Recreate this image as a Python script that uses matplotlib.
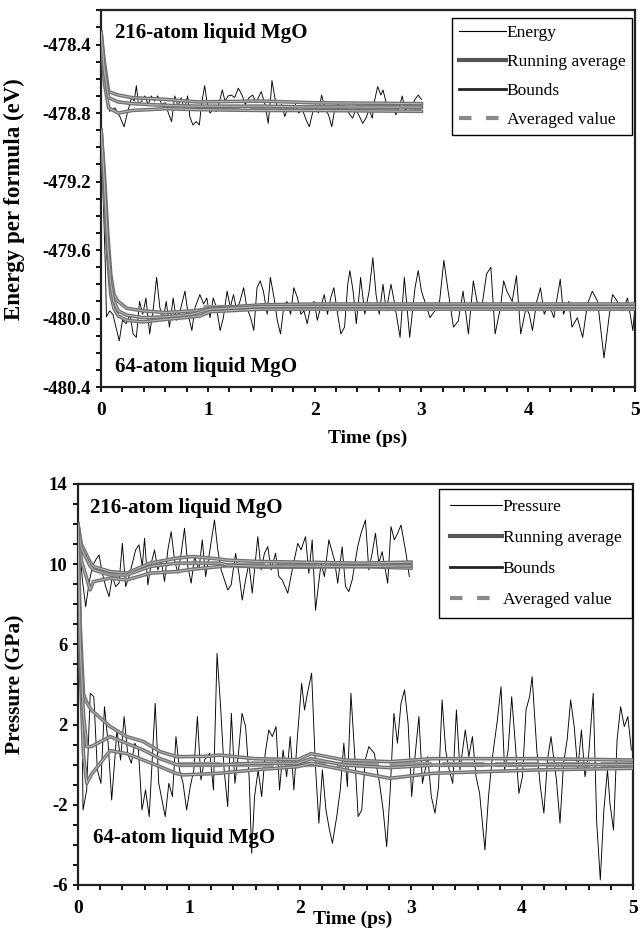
import matplotlib
matplotlib.use('Agg')
import matplotlib.pyplot as plt
import matplotlib.patheffects as pe
from matplotlib.lines import Line2D
from matplotlib.ticker import MultipleLocator, FormatStrFormatter

plt.rcParams['font.family'] = ['Liberation Serif', 'DejaVu Serif']
plt.rcParams['axes.unicode_minus'] = False

# ---- energy, 216-atom run (eV per formula) ----
e216_t = [0.0, 0.02, 0.05, 0.08, 0.13, 0.175, 0.215, 0.25, 0.285, 0.31, 0.33, 0.35, 0.38, 0.41, 0.44,
          0.47, 0.50, 0.53, 0.57, 0.60, 0.63, 0.66, 0.69, 0.72, 0.75, 0.78, 0.81, 0.83, 0.86, 0.89,
          0.92, 0.94, 0.97, 0.99, 1.02, 1.05, 1.08, 1.11, 1.135, 1.16, 1.19, 1.22, 1.25, 1.285, 1.32,
          1.35, 1.385, 1.42, 1.45, 1.48, 1.50, 1.535, 1.565, 1.59, 1.60, 1.63, 1.66, 1.69, 1.72, 1.75,
          1.785, 1.82, 1.85, 1.885, 1.92, 1.95, 1.98, 2.01, 2.035, 2.065, 2.10, 2.13, 2.16, 2.19, 2.22,
          2.25, 2.29, 2.32, 2.355, 2.385, 2.42, 2.45, 2.48, 2.51, 2.54, 2.56, 2.59, 2.62, 2.64, 2.67,
          2.70, 2.73, 2.76, 2.79, 2.82, 2.85, 2.88, 2.91, 2.94, 2.97, 3.00]
e216_v = [-478.33, -478.46, -478.655, -478.79, -478.77, -478.82, -478.88, -478.79, -478.71, -478.73,
          -478.64, -478.75, -478.73, -478.70, -478.75, -478.70, -478.73, -478.70, -478.75, -478.74,
          -478.80, -478.85, -478.70, -478.76, -478.71, -478.78, -478.70, -478.82, -478.87, -478.85,
          -478.87, -478.75, -478.64, -478.73, -478.80, -478.78, -478.79, -478.73, -478.665, -478.73,
          -478.70, -478.695, -478.71, -478.655, -478.695, -478.75, -478.71, -478.695, -478.74, -478.70,
          -478.675, -478.75, -478.86, -478.695, -478.61, -478.72, -478.78, -478.75, -478.82, -478.77,
          -478.79, -478.75, -478.80, -478.78, -478.84, -478.88, -478.80, -478.75, -478.80, -478.695,
          -478.78, -478.81, -478.88, -478.77, -478.75, -478.78, -478.76, -478.80, -478.83, -478.78,
          -478.82, -478.86, -478.83, -478.78, -478.83, -478.73, -478.645, -478.695, -478.665, -478.74,
          -478.78, -478.75, -478.81, -478.77, -478.70, -478.79, -478.74, -478.76, -478.72, -478.695,
          -478.72]
e216_run_t = [0.0, 0.03, 0.07, 0.16, 0.29, 0.60, 0.90, 1.50, 2.00, 3.00]
e216_run = [-478.33, -478.55, -478.71, -478.735, -478.745, -478.755, -478.76, -478.76, -478.765, -478.765]
e216_hi = [-478.33, -478.50, -478.675, -478.695, -478.71, -478.72, -478.735, -478.73, -478.74, -478.745]
e216_lo = [-478.33, -478.62, -478.77, -478.80, -478.785, -478.775, -478.78, -478.785, -478.785, -478.79]
e216_mean = -478.765
e216_mean_span = [0.9, 3.0]

# ---- energy, 64-atom run ----
e64_t = [0.0, 0.02, 0.04, 0.05, 0.08, 0.11, 0.17, 0.20, 0.235, 0.27, 0.30, 0.33, 0.36, 0.39, 0.42,
         0.455, 0.49, 0.52, 0.55, 0.58, 0.61, 0.64, 0.675, 0.705, 0.74, 0.785, 0.815, 0.85, 0.88, 0.925,
         0.96, 0.99, 1.02, 1.05, 1.08, 1.115, 1.145, 1.18, 1.21, 1.24, 1.27, 1.30, 1.335, 1.365, 1.40,
         1.43, 1.46, 1.49, 1.52, 1.555, 1.585, 1.62, 1.65, 1.68, 1.71, 1.74, 1.775, 1.805, 1.84, 1.87,
         1.90, 1.93, 1.96, 1.995, 2.025, 2.055, 2.09, 2.12, 2.15, 2.18, 2.21, 2.245, 2.28, 2.31, 2.33,
         2.36, 2.39, 2.42, 2.43, 2.47, 2.51, 2.545, 2.575, 2.605, 2.64, 2.67, 2.715, 2.745, 2.80, 2.84,
         2.89, 2.94, 2.97, 3.00, 3.05, 3.08, 3.125, 3.17, 3.21, 3.25, 3.30, 3.345, 3.39, 3.44, 3.486,
         3.52, 3.565, 3.61, 3.65, 3.69, 3.74, 3.77, 3.80, 3.85, 3.89, 3.93, 3.98, 4.01, 4.04, 4.08,
         4.115, 4.15, 4.195, 4.24, 4.30, 4.33, 4.38, 4.41, 4.46, 4.51, 4.555, 4.60, 4.65, 4.71, 4.76,
         4.79, 4.835, 4.885, 4.93, 4.98, 5.00]
e64_v = [-478.90, -479.30, -479.70, -479.99, -479.955, -479.975, -480.13, -480.01, -480.03, -479.975,
         -480.09, -480.11, -479.90, -479.975, -479.88, -480.09, -479.935, -479.76, -479.935, -480.01,
         -479.90, -480.05, -479.88, -480.01, -479.955, -479.84, -479.975, -480.07, -479.935, -479.86,
         -479.915, -479.88, -479.995, -479.88, -479.935, -480.07, -479.995, -479.84, -479.935, -479.86,
         -479.955, -479.90, -479.82, -479.935, -479.995, -480.07, -479.82, -479.78, -479.84, -479.975,
         -479.76, -479.88, -480.01, -480.09, -479.935, -479.90, -479.975, -479.82, -479.88, -479.975,
         -479.955, -480.03, -479.935, -479.90, -480.01, -479.935, -479.86, -479.975, -479.88, -479.82,
         -479.955, -480.09, -480.05, -479.80, -479.72, -479.84, -480.03, -479.84, -479.76, -479.975,
         -479.84, -479.645, -479.86, -479.975, -479.80, -479.955, -479.80, -479.90, -480.11, -479.76,
         -480.11, -479.82, -479.72, -479.84, -479.935, -479.995, -479.955, -479.90, -479.66, -479.84,
         -480.05, -480.015, -479.84, -480.09, -479.78, -479.90, -479.935, -479.74, -479.70, -480.09,
         -479.935, -479.78, -479.84, -479.90, -479.75, -480.09, -479.935, -479.975, -480.07, -479.90,
         -479.82, -479.975, -479.915, -479.995, -479.77, -479.975, -479.90, -480.05, -479.995, -480.11,
         -479.915, -479.84, -479.90, -480.23, -479.975, -479.86, -479.90, -479.955, -479.88, -480.07,
         -479.935]
e64_run_t = [0.0, 0.03, 0.06, 0.09, 0.12, 0.16, 0.24, 0.39, 0.60, 0.86, 0.93, 1.02, 1.5, 2.0, 3.0, 4.0, 5.0]
e64_run = [-478.90, -479.20, -479.55, -479.80, -479.90, -479.955, -479.98, -479.995, -479.99, -479.975,
           -479.96, -479.945, -479.93, -479.93, -479.93, -479.93, -479.93]
e64_hi = [-478.90, -479.15, -479.48, -479.74, -479.86, -479.90, -479.94, -479.955, -479.965, -479.955,
          -479.95, -479.94, -479.92, -479.915, -479.915, -479.915, -479.915]
e64_lo = [-478.90, -479.25, -479.62, -479.86, -479.94, -479.985, -480.01, -480.02, -480.005, -479.99,
          -479.985, -479.96, -479.945, -479.945, -479.945, -479.945, -479.945]
e64_mean = -479.93
e64_mean_span = [0.95, 5.0]

# ---- pressure, 216-atom run (GPa) ----
p216_t = [0.0, 0.012, 0.04, 0.07, 0.10, 0.13, 0.16, 0.19, 0.22, 0.25, 0.28, 0.31, 0.34, 0.37, 0.40,
          0.43, 0.46, 0.49, 0.52, 0.55, 0.58, 0.60, 0.63, 0.66, 0.69, 0.72, 0.75, 0.78, 0.81, 0.84,
          0.87, 0.90, 0.93, 0.96, 0.99, 1.02, 1.05, 1.09, 1.12, 1.15, 1.18, 1.23, 1.26, 1.29, 1.32,
          1.35, 1.38, 1.42, 1.45, 1.48, 1.51, 1.54, 1.57, 1.62, 1.65, 1.68, 1.71, 1.74, 1.78, 1.81,
          1.84, 1.89, 1.93, 1.98, 2.01, 2.05, 2.08, 2.11, 2.14, 2.19, 2.22, 2.26, 2.31, 2.34, 2.38,
          2.41, 2.44, 2.47, 2.52, 2.55, 2.59, 2.62, 2.65, 2.68, 2.71, 2.74, 2.79, 2.82, 2.85, 2.88,
          2.91, 2.955, 2.985]
p216_v = [12.0, 11.21, 9.21, 7.88, 9.05, 9.88, 10.21, 10.46, 9.54, 8.88, 8.38, 9.38, 8.88, 9.05, 11.04,
          8.88, 9.38, 10.04, 10.71, 10.96, 9.88, 11.29, 8.96, 10.04, 10.71, 9.71, 10.21, 9.13, 10.71, 11.62,
          10.21, 9.54, 10.54, 11.79, 9.88, 9.05, 10.38, 9.71, 11.21, 9.38, 10.38, 12.20, 10.71, 9.71, 9.21,
          8.71, 8.96, 10.54, 9.54, 8.21, 9.21, 10.04, 8.55, 11.37, 9.71, 10.54, 10.87, 9.71, 10.54, 9.38,
          9.21, 8.55, 9.71, 11.04, 10.71, 11.37, 9.54, 11.21, 7.71, 10.04, 9.38, 11.21, 10.21, 9.05, 10.87,
          8.88, 8.63, 9.21, 10.87, 11.54, 12.20, 9.71, 10.54, 11.54, 10.04, 10.62, 9.05, 11.87, 11.21, 11.54,
          11.95, 10.54, 9.38]
p216_run_t = [0.0, 0.03, 0.11, 0.14, 0.29, 0.44, 0.65, 0.89, 1.04, 1.28, 1.34, 1.64, 2.0, 2.54, 3.0]
p216_run = [12.0, 10.8, 9.9, 9.71, 9.46, 9.46, 9.88, 10.05, 10.05, 10.05, 9.95, 9.9, 9.9, 9.88, 9.92]
p216_hi = [12.0, 11.0, 10.1, 9.88, 9.63, 9.55, 10.05, 10.30, 10.38, 10.25, 10.20, 10.13, 10.1, 10.05, 10.1]
p216_lo = [12.0, 10.2, 8.72, 9.13, 9.30, 9.21, 9.55, 9.63, 9.75, 9.88, 9.96, 9.85, 9.85, 9.88, 9.80]
p216_mean = 9.95
p216_mean_span = [1.3, 3.0]

# ---- pressure, 64-atom run ----
p64_t = [0.0, 0.01, 0.03, 0.046, 0.079, 0.111, 0.143, 0.175, 0.207, 0.239, 0.272, 0.304, 0.352, 0.384,
         0.416, 0.448, 0.481, 0.513, 0.545, 0.577, 0.609, 0.642, 0.674, 0.696, 0.728, 0.786, 0.819,
         0.851, 0.883, 0.915, 0.947, 0.979, 1.012, 1.044, 1.076, 1.108, 1.140, 1.188, 1.221, 1.253,
         1.285, 1.317, 1.349, 1.382, 1.414, 1.446, 1.478, 1.510, 1.542, 1.565, 1.591, 1.623, 1.655,
         1.687, 1.719, 1.751, 1.784, 1.816, 1.848, 1.880, 1.912, 1.945, 1.977, 2.015, 2.041, 2.067,
         2.105, 2.138, 2.170, 2.202, 2.234, 2.266, 2.292, 2.331, 2.363, 2.395, 2.427, 2.459, 2.492,
         2.524, 2.556, 2.588, 2.620, 2.669, 2.717, 2.749, 2.781, 2.813, 2.846, 2.878, 2.910, 2.942,
         2.974, 3.006, 3.039, 3.071, 3.103, 3.151, 3.183, 3.216, 3.248, 3.280, 3.312, 3.344, 3.376,
         3.409, 3.441, 3.489, 3.521, 3.553, 3.586, 3.618, 3.666, 3.698, 3.730, 3.778, 3.811, 3.843,
         3.875, 3.907, 3.939, 3.972, 4.004, 4.036, 4.068, 4.091, 4.133, 4.165, 4.197, 4.229, 4.261,
         4.310, 4.342, 4.374, 4.406, 4.438, 4.470, 4.502, 4.535, 4.567, 4.599, 4.641, 4.673, 4.705,
         4.737, 4.770, 4.792, 4.824, 4.856, 4.888, 4.921, 4.953, 4.985]
p64_v = [12.0, 9.0, 6.05, -2.26, -1.26, 3.56, 3.39, -0.26, -0.93, 2.89, 1.07, -1.76, 1.73, 0.23,
         2.40, 0.57, 0.07, 1.07, 0.73, -2.26, -1.26, -2.59, 0.73, 3.06, -0.93, -2.59, -0.93,
         -1.59, 1.40, -0.26, -0.93, -2.26, -1.09, -0.26, 2.40, -0.76, 0.23, 0.57, -1.26, 5.55,
         2.89, -0.26, -2.09, 2.56, -0.93, 0.57, 2.56, 1.90, -0.60, -4.42, -1.59, -0.26, -1.59,
         0.57, 1.73, 1.40, 1.90, -1.26, 0.73, -0.60, 1.40, -1.26, 1.40, 4.06, 2.73, 3.56,
         4.56, 0.07, -2.92, -0.26, -2.26, -3.26, -3.92, -2.59, -1.26, 1.07, -1.09, 3.56, 0.57,
         -2.59, -2.26, 0.23, 0.90, 0.57, -0.93, -2.26, -4.09, -1.26, 2.56, 1.07, 3.06, 3.73,
         2.06, -1.59, 0.57, 2.40, -0.93, 0.40, -1.59, -2.42, -1.09, 3.23, 0.73, -0.26, -0.93,
         2.73, -0.26, 1.73, 0.40, 1.40, -0.60, -1.43, -4.25, -1.59, 0.23, 2.23, 3.89, -0.26,
         0.73, 3.39, 1.07, -1.43, -0.60, 2.73, 3.39, 4.39, 0.73, -1.09, -2.42, 0.23, 1.40,
         -0.76, -2.92, 0.07, 1.23, 3.23, 1.90, -0.26, 1.73, -0.60, 0.40, 3.56, -2.92, -5.75,
         -2.26, -0.26, -1.93, -3.26, 1.23, 2.89, 1.90, 2.40, 0.73]
p64_run_t = [0.0, 0.02, 0.05, 0.08, 0.12, 0.29, 0.44, 0.59, 0.74, 0.89, 0.95, 1.19, 1.27, 1.59, 1.98,
             2.10, 2.40, 2.81, 3.20, 4.16, 5.0]
p64_run = [12.0, 6.0, 2.5, 0.9, 0.9, 1.4, 1.06, 0.73, 0.30, 0.0, -0.02, 0.0, -0.02, 0.07, 0.07,
           0.30, -0.02, -0.15, -0.02, 0.0, 0.0]
p64_hi = [12.0, 7.0, 3.5, 3.1, 2.73, 1.9, 1.4, 1.15, 0.65, 0.40, 0.40, 0.42, 0.48, 0.30, 0.25,
          0.55, 0.23, 0.15, 0.30, 0.30, 0.23]
p64_lo = [12.0, 5.0, 0.5, -0.93, -0.5, 0.7, 0.55, 0.23, -0.10, -0.45, -0.51, -0.45, -0.43, -0.26, -0.10,
          0.07, -0.26, -0.68, -0.43, -0.26, -0.18]
p64_mean = 0.02
p64_mean_span = [0.9, 5.0]

band_fx = [pe.Stroke(linewidth=2.6, foreground='#707070'), pe.Normal()]


def draw_run(ax, t, v, run_t, run, hi, lo, mean, span):
    ax.plot(t, v, color='black', lw=0.65, zorder=2)
    ax.plot(span, [mean, mean], color='#9a9a9a', lw=3.8, dashes=(8, 2), zorder=3)
    for y in (hi, lo, run):
        ax.plot(run_t, y, color='#b4b4b4', lw=0.8, path_effects=band_fx, zorder=4)


def style_axes(ax, first_label):
    for s in ax.spines.values():
        s.set_linewidth(1.6)
        s.set_color('#222222')
    ax.set_xlim(0, 5)
    ax.xaxis.set_major_locator(MultipleLocator(1))
    ax.xaxis.set_minor_locator(MultipleLocator(0.2))
    ax.tick_params(which='both', direction='out', length=3.5, width=1.3)
    ax.tick_params(axis='x', which='major', labelsize=14, pad=7)
    ax.tick_params(axis='y', which='major', labelsize=13.5)
    for lab in ax.get_xticklabels() + ax.get_yticklabels():
        lab.set_fontweight('bold')
    handles = [Line2D([], [], color='black', lw=0.8),
               Line2D([], [], color='#555555', lw=3),
               Line2D([], [], color='#222222', lw=2),
               Line2D([], [], color='#8a8a8a', lw=3, dashes=(3, 3.5))]
    labels = [first_label, 'Running average', 'Bounds', 'Averaged value']
    return handles, labels


fig = plt.figure(figsize=(6.44, 9.36), dpi=100)

# top panel: energy
ax1 = fig.add_axes([0.157, 0.5865, 0.829, 0.4025])
draw_run(ax1, e216_t, e216_v, e216_run_t, e216_run, e216_hi, e216_lo, e216_mean, e216_mean_span)
draw_run(ax1, e64_t, e64_v, e64_run_t, e64_run, e64_hi, e64_lo, e64_mean, e64_mean_span)
ax1.set_ylim(-480.4, -478.2)
ax1.yaxis.set_minor_locator(MultipleLocator(0.1))
ax1.yaxis.set_major_formatter(FormatStrFormatter('%.1f'))
ax1.set_yticks([-478.4, -478.8, -479.2, -479.6, -480.0, -480.4])
h, l = style_axes(ax1, 'Energy')
ax1.tick_params(axis='y', which='major', pad=4)
ax1.set_ylabel('Energy per formula (eV)', fontsize=16.5, fontweight='bold')
ax1.yaxis.set_label_coords(-0.142, 0.5)
ax1.set_xlabel('Time (ps)', fontsize=14, fontweight='bold')
ax1.xaxis.set_label_coords(0.5, -0.112)
ax1.text(0.026, 0.926, '216-atom liquid MgO', transform=ax1.transAxes, fontsize=15,
         fontweight='bold', va='baseline')
ax1.text(0.026, 0.041, '64-atom liquid MgO', transform=ax1.transAxes, fontsize=15,
         fontweight='bold', va='baseline')
leg1 = ax1.legend(h, l, loc='upper right', bbox_to_anchor=(0.995, 0.98), fontsize=12.5,
                  frameon=True, fancybox=False, edgecolor='black', framealpha=1,
                  handlelength=2.7, handletextpad=0.05, labelspacing=0.75, borderpad=0.4,
                  borderaxespad=0)
leg1.get_frame().set_linewidth(1.0)

# bottom panel: pressure
ax2 = fig.add_axes([0.121, 0.0545, 0.862, 0.4285])
draw_run(ax2, p216_t, p216_v, p216_run_t, p216_run, p216_hi, p216_lo, p216_mean, p216_mean_span)
draw_run(ax2, p64_t, p64_v, p64_run_t, p64_run, p64_hi, p64_lo, p64_mean, p64_mean_span)
ax2.set_ylim(-6, 14)
ax2.set_yticks([14, 10, 6, 2, -2, -6])
ax2.yaxis.set_minor_locator(MultipleLocator(1))
h, l = style_axes(ax2, 'Pressure')
ax2.tick_params(axis='y', which='major', pad=4)
ax2.set_ylabel('Pressure (GPa)', fontsize=15.5, fontweight='bold')
ax2.yaxis.set_label_coords(-0.094, 0.5)
ax2.set_xlabel('Time (ps)', fontsize=14, fontweight='bold')
ax2.xaxis.set_label_coords(0.494, -0.063)
ax2.text(0.0216, 0.928, '216-atom liquid MgO', transform=ax2.transAxes, fontsize=15,
         fontweight='bold', va='baseline')
ax2.text(0.027, 0.105, '64-atom liquid MgO', transform=ax2.transAxes, fontsize=15,
         fontweight='bold', va='baseline')
leg2 = ax2.legend(h, l, loc='upper right', bbox_to_anchor=(0.998, 0.988), fontsize=12.5,
                  frameon=True, fancybox=False, edgecolor='black', framealpha=1,
                  handlelength=3.0, handletextpad=0.05, labelspacing=0.85, borderpad=0.6,
                  borderaxespad=0)
leg2.get_frame().set_linewidth(1.0)

fig.savefig('out.png', dpi=100)
